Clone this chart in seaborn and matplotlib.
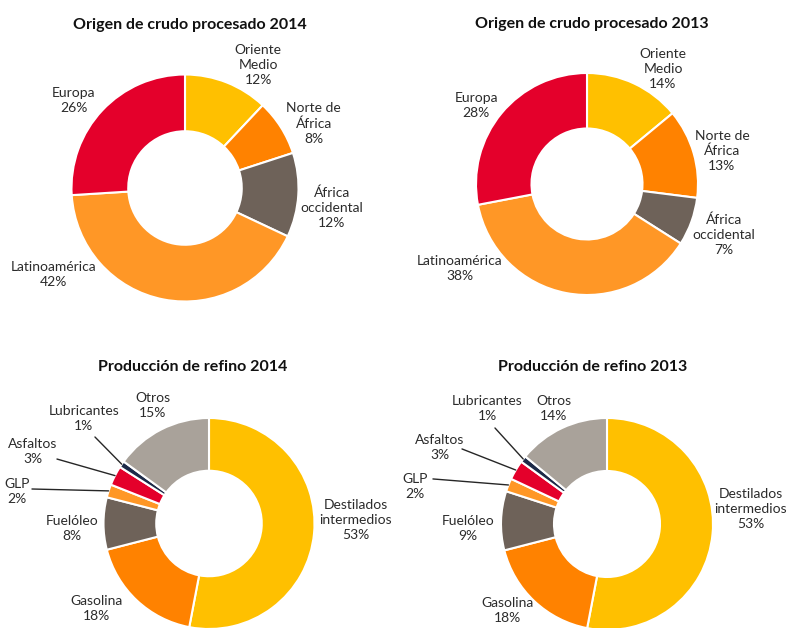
import numpy as np
import matplotlib
matplotlib.use("Agg")
import matplotlib.pyplot as plt
import seaborn as sns

# datos
crudo_cats = ['Oriente\nMedio', 'Norte de\nÁfrica', 'África\noccidental', 'Latinoamérica', 'Europa']
crudo_2014 = [12, 8, 12, 42, 26]
crudo_2013 = [14, 13, 7, 38, 28]

refino_cats = ['Destilados\nintermedios', 'Gasolina', 'Fuelóleo', 'GLP', 'Asfaltos', 'Lubricantes', 'Otros']
refino_2014 = [53, 18, 8, 2, 3, 1, 15]
refino_2013 = [53, 18, 9, 2, 3, 1, 14]

# colores
crudo_colors = sns.color_palette(['#FFC000', '#FF8200', '#6E6259', '#FF9726', '#E4002B'])
refino_colors = sns.color_palette(['#FFC000', '#FF8200', '#6E6259', '#FF9726', '#E4002B', '#1C2A48', '#A9A29A'])

sns.set_theme(style='white')
plt.rcParams['font.family'] = ['Lato', 'DejaVu Sans']

W, H = 789, 628
fig = plt.figure(figsize=(W / 100, H / 100), dpi=100)
fig.patch.set_facecolor('white')

TXT = '#2b2b2b'
L = 2.2


def donut_axes(cx, cy, r):
    # eje cuadrado centrado en (cx, cy) pixeles, 1 unidad = r pixeles
    ax = fig.add_axes([(cx - L * r) / W, (H - cy - L * r) / H, 2 * L * r / W, 2 * L * r / H])
    return ax


def draw_donut(ax, values, cats, colors, label_pos, leaders=None):
    wedges, _ = ax.pie(values, colors=colors, startangle=90, counterclock=False, radius=1,
                       wedgeprops=dict(width=0.5, edgecolor='white', linewidth=1.5))
    ax.set_xlim(-L, L)
    ax.set_ylim(-L, L)
    ax.set_aspect('equal')
    ax.axis('off')
    for cat, v, (x, y) in zip(cats, values, label_pos):
        ax.text(x, y, f'{cat}\n{v}%', ha='center', va='center', fontsize=10,
                color=TXT, linespacing=1.3)
    if leaders:
        for i, (sx, sy) in leaders.items():
            w = wedges[i]
            ang = np.deg2rad((w.theta1 + w.theta2) / 2)
            ax.annotate('', xy=(np.cos(ang), np.sin(ang)), xytext=(sx, sy),
                        arrowprops=dict(arrowstyle='-', color='#262626', lw=1,
                                        shrinkA=0, shrinkB=0))


# Origen de crudo procesado 2014
ax1 = donut_axes(185, 188, 113.5)
draw_donut(ax1, crudo_2014, crudo_cats, crudo_colors,
           [(0.646, 1.080), (1.133, 0.566), (1.292, -0.177), (-1.159, -0.761), (-0.982, 0.770)])

# Origen de crudo procesado 2013
ax2 = donut_axes(587, 184, 111)
draw_donut(ax2, crudo_2013, crudo_cats, crudo_colors,
           [(0.685, 1.036), (1.216, 0.297), (1.234, -0.459), (-1.144, -0.757), (-1.0, 0.703)])

# Produccion de refino 2014
ax3 = donut_axes(209, 523.5, 105.5)
draw_donut(ax3, refino_2014, refino_cats, refino_colors,
           [(1.393, 0.033), (-1.071, -0.801), (-1.299, -0.052), (-1.820, 0.299),
            (-1.668, 0.687), (-1.185, 0.991), (-0.531, 1.114)],
           leaders={3: (-1.678, 0.327), 4: (-1.441, 0.611), 5: (-1.081, 0.820)})

# Produccion de refino 2013
ax4 = donut_axes(607, 524, 106)
draw_donut(ax4, refino_2013, refino_cats, refino_colors,
           [(1.358, 0.142), (-0.943, -0.815), (-1.311, -0.038), (-1.811, 0.358),
            (-1.575, 0.726), (-1.132, 1.094), (-0.5, 1.094)],
           leaders={3: (-1.642, 0.425), 4: (-1.368, 0.708), 5: (-1.057, 0.906)})

# titulos
titles = [('Origen de crudo procesado 2014', 190, 25), ('Origen de crudo procesado 2013', 592, 24),
          ('Producción de refino 2014', 193, 367), ('Producción de refino 2013', 593, 367)]
for t, x, y in titles:
    fig.text(x / W, 1 - y / H, t, ha='center', va='center', fontsize=11.5,
             fontweight='bold', color='#111111')

fig.savefig('out.png', dpi=100, facecolor='white')
